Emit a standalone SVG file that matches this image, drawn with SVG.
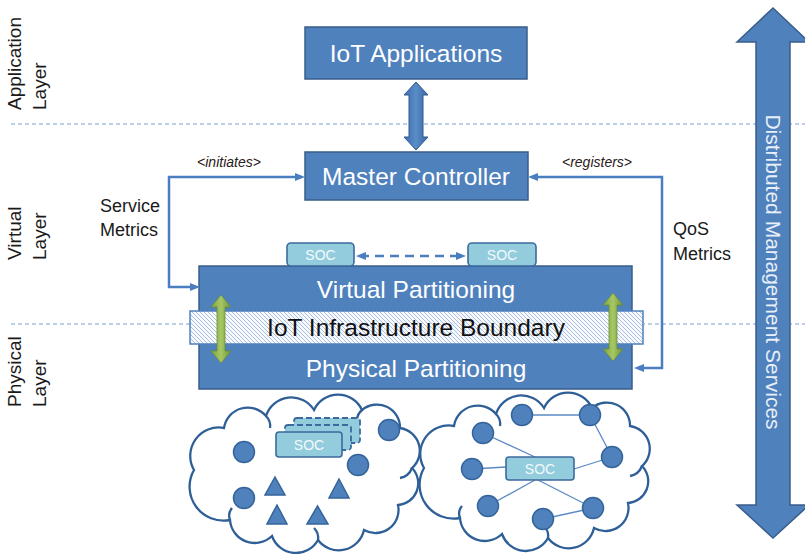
<svg xmlns="http://www.w3.org/2000/svg" xmlns:xlink="http://www.w3.org/1999/xlink" width="805" height="554" viewBox="0 0 805 554">
<defs>
<style>
text{font-family:"Liberation Sans",Arial,sans-serif}
.box{fill:#4F81BD;stroke:#385D8A;stroke-width:1.5}
.boxtxt{fill:#FFFFFF;font-size:24.5px;text-anchor:middle}
.soc{fill:#93CDDD;stroke:#3C6A9E;stroke-width:1.6}
.soctxt{fill:#F2FAFC;font-size:14px;text-anchor:middle}
.socd{fill:#93CDDD;stroke:#3C6A9E;stroke-width:1.8;stroke-dasharray:6 3}
.layer{stroke:#7CA0D2;stroke-width:1;stroke-dasharray:4 3;fill:none}
.lbl{fill:#1A1A1A;font-size:19px}
.side{fill:#1A1A1A;font-size:18px}
.tag{fill:#2A2018;font-size:14px;font-style:italic;text-anchor:middle}
.conn{fill:none;stroke:#4A7EBF;stroke-width:2.5}
.cloud{fill:#FFFFFF;stroke:#2F5F97;stroke-width:2.3}
.hint{fill:none;stroke:#2F5F97;stroke-width:2.3}
.dot{fill:#4F81BD;stroke:#35649A;stroke-width:1.5}
.link{stroke:#5A88C4;stroke-width:1.3}
</style>
<marker id="ah" viewBox="0 0 10 8" refX="6" refY="4" markerWidth="10" markerHeight="8" markerUnits="userSpaceOnUse" orient="auto-start-reverse">
<path d="M0,0 L10,4 L0,8 z" fill="#4A7EBF"/>
</marker>
<pattern id="hatch" patternUnits="userSpaceOnUse" width="4" height="4">
<rect width="4" height="4" fill="#F7F9FD"/>
<path d="M-1,-1 L5,5 M-1,3 L1,5 M3,-1 L5,1" stroke="#A8BEE0" stroke-width="1"/>
</pattern>
<linearGradient id="green" x1="0" y1="0" x2="1" y2="0">
<stop offset="0" stop-color="#7FA53E"/>
<stop offset="0.5" stop-color="#A6C865"/>
<stop offset="1" stop-color="#6F9535"/>
</linearGradient>
<linearGradient id="bluegrad" x1="0" y1="0" x2="1" y2="0">
<stop offset="0" stop-color="#3E6DAA"/>
<stop offset="0.5" stop-color="#5A8CC8"/>
<stop offset="1" stop-color="#3A66A0"/>
</linearGradient>
<path id="cloudShape" d="M194,470 A28.4,28.4 0 0 1 224,428 A24,24 0 0 1 266,416 A26.6,26.6 0 0 1 314,410 A26.4,26.4 0 0 1 362,410 A23.1,23.1 0 0 1 400,428 A23,23 0 0 1 412,468 A21.8,21.8 0 0 1 398,505 A23.1,23.1 0 0 1 364,530 A25.9,25.9 0 0 1 318,540 A25.3,25.3 0 0 1 272,536 A24.8,24.8 0 0 1 230,520 A33.9,33.9 0 0 1 194,470 Z"/>
<g id="cloudHints">
<path d="M266,416 A14,14 0 0 1 270,428"/>
<path d="M362,410 A14,14 0 0 0 357,420"/>
<path d="M412,468 A16,16 0 0 1 400,478"/>
<path d="M230,520 A12,12 0 0 1 232,508"/>
<path d="M318,540 A14,14 0 0 0 314,528"/>
</g>
</defs>

<rect width="805" height="554" fill="#FFFFFF"/>

<!-- layer separators -->
<g id="layers">
<line class="layer" x1="11" y1="124" x2="805" y2="124"/>
<line class="layer" x1="11" y1="324" x2="805" y2="324"/>
<text class="lbl" transform="translate(21,110) rotate(-90)">Application</text>
<text class="lbl" transform="translate(46,110) rotate(-90)">Layer</text>
<text class="lbl" transform="translate(21,260) rotate(-90)">Virtual</text>
<text class="lbl" transform="translate(46,260) rotate(-90)">Layer</text>
<text class="lbl" transform="translate(21,407) rotate(-90)">Physical</text>
<text class="lbl" transform="translate(46,407) rotate(-90)">Layer</text>
</g>

<!-- distributed management services -->
<g id="dms">
<polygon points="773,8 809,42 790,42 790,505 809,505 773,538 737,505 756,505 756,42 737,42" fill="#4F81BD" stroke="#385D8A" stroke-width="1.5"/>
<text transform="translate(766,272) rotate(90)" fill="#E8EFF8" font-size="21" text-anchor="middle">Distributed Management Services</text>
</g>

<g id="iot-applications">
<rect class="box" x="305" y="27" width="222" height="52"/>
<text class="boxtxt" x="416" y="62" font-size="24">IoT Applications</text>
</g>

<g id="master-controller">
<rect class="box" x="305" y="152" width="223" height="48"/>
<text class="boxtxt" x="416" y="185">Master Controller</text>
</g>

<g id="app-master-arrow">
<polygon points="416,82 428,95 423,95 423,137 428,137 416,150 404,137 409,137 409,95 404,95" fill="url(#bluegrad)" stroke="#2F5A92" stroke-width="1"/>
</g>

<g id="partitioning">
<rect class="box" x="199" y="266" width="433" height="123"/>
<text class="boxtxt" x="416" y="298">Virtual Partitioning</text>
<text class="boxtxt" x="416" y="377">Physical Partitioning</text>
</g>

<g id="boundary">
<rect x="190" y="311" width="453" height="33" fill="url(#hatch)" stroke="#4F81BD" stroke-width="1.5"/>
<text x="416" y="336" fill="#111111" font-size="24.5" text-anchor="middle">IoT Infrastructure Boundary</text>
</g>

<g id="green-arrows">
<polygon points="221,295 231,307 225,307 225,351 231,351 221,363 211,351 217,351 217,307 211,307" fill="url(#green)" stroke="#6C8E33" stroke-width="0.8"/>
<polygon points="613,293 623,305 617,305 617,349 623,349 613,361 603,349 609,349 609,305 603,305" fill="url(#green)" stroke="#6C8E33" stroke-width="0.8"/>
</g>

<g id="soc-left">
<rect class="soc" x="287" y="243" width="67" height="23" rx="4"/>
<text class="soctxt" x="320.5" y="260">SOC</text>
</g>
<g id="soc-right">
<rect class="soc" x="468" y="243" width="68" height="23" rx="4"/>
<text class="soctxt" x="502" y="260">SOC</text>
</g>

<g id="connectors">
<path class="conn" d="M196,287 L169,287 L169,177 L301,177" marker-start="url(#ah)" marker-end="url(#ah)"/>
<path class="conn" d="M532,177 L662,177 L662,368 L638,368" marker-start="url(#ah)" marker-end="url(#ah)"/>
<path class="conn" d="M360,256 L462,256" stroke-width="2" stroke-dasharray="9 6" marker-start="url(#ah)" marker-end="url(#ah)"/>
<text class="tag" x="229" y="167">&lt;initiates&gt;</text>
<text class="tag" x="597" y="167">&lt;registers&gt;</text>
<text class="side" x="100" y="212">Service</text>
<text class="side" x="100" y="236">Metrics</text>
<text class="side" x="673" y="235">QoS</text>
<text class="side" x="673" y="260">Metrics</text>
</g>

<g id="cloud-left">
<use xlink:href="#cloudShape" class="cloud"/>
<use xlink:href="#cloudHints" class="hint"/>
<rect class="socd" x="294" y="418" width="66" height="25" rx="3"/>
<rect class="socd" x="285" y="425" width="66" height="25" rx="3"/>
<rect class="soc" x="276" y="432" width="66" height="25" rx="3"/>
<text class="soctxt" x="309" y="450">SOC</text>
<circle class="dot" cx="244" cy="452" r="10.5"/>
<circle class="dot" cx="244" cy="498" r="10.5"/>
<circle class="dot" cx="389" cy="430" r="10.5"/>
<circle class="dot" cx="358" cy="465" r="10.5"/>
<polygon class="dot" points="275,477 285,495 265,495"/>
<polygon class="dot" points="339,479 349,498 329,498"/>
<polygon class="dot" points="277,505 287,524 267,524"/>
<polygon class="dot" points="317.5,506 328,524 307,524"/>
</g>

<g id="cloud-right">
<g transform="translate(230,-2)">
<use xlink:href="#cloudShape" class="cloud"/>
<use xlink:href="#cloudHints" class="hint"/>
</g>
<line class="link" x1="522" y1="415" x2="590" y2="415"/>
<line class="link" x1="590" y1="415" x2="612" y2="457"/>
<line class="link" x1="483" y1="433" x2="535" y2="457"/>
<line class="link" x1="472" y1="469" x2="506" y2="467"/>
<line class="link" x1="574" y1="469" x2="612" y2="457"/>
<line class="link" x1="535" y1="480" x2="488" y2="506"/>
<line class="link" x1="538" y1="480" x2="593" y2="508"/>
<line class="link" x1="543" y1="519" x2="593" y2="508"/>
<rect class="soc" x="506" y="457" width="68" height="23" rx="3" stroke-width="2"/>
<text class="soctxt" x="540" y="474">SOC</text>
<circle class="dot" cx="522" cy="415" r="10.5"/>
<circle class="dot" cx="590" cy="415" r="10.5"/>
<circle class="dot" cx="483" cy="433" r="10.5"/>
<circle class="dot" cx="612" cy="457" r="10.5"/>
<circle class="dot" cx="472" cy="469" r="10.5"/>
<circle class="dot" cx="488" cy="506" r="10.5"/>
<circle class="dot" cx="593" cy="508" r="10.5"/>
<circle class="dot" cx="543" cy="519" r="10.5"/>
</g>
</svg>
